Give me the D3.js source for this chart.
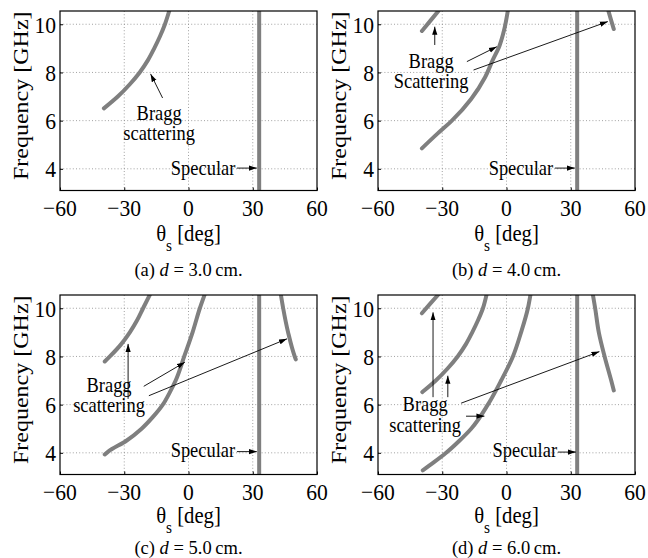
<!DOCTYPE html>
<html>
<head>
<meta charset="utf-8">
<script src="https://cdn.jsdelivr.net/npm/d3@7"></script>
<style>
  body { margin: 0; background: #fff; }
  svg { font-family: "Liberation Serif", "Times New Roman", serif; }
</style>
</head>
<body>
<svg width="648" height="558"></svg>
<script>
// curves: [theta_s (deg), frequency (GHz)]
let specularDeg = 33;

let braggA1 = [[-39.5, 6.51], [-33, 7], [-27.5, 7.5], [-22.8, 8], [-19, 8.5], [-16, 9], [-13.3, 9.5], [-11, 10], [-9, 10.55]];

let braggB1 = [[-39.5, 9.72], [-35.5, 10.15], [-31.8, 10.55]];
let braggB2 = [[-39.5, 4.85], [-32.1, 5.47], [-25.5, 6], [-16.5, 6.9], [-10, 7.8], [-6.5, 8.5], [-3.3, 9.1], [-1, 9.8], [0.6, 10.55]];
let braggB3 = [[47.6, 10.55], [48.9, 10.15], [50.1, 9.8]];

let braggC1 = [[-39.1, 7.79], [-36.7, 8], [-31.5, 8.5], [-27.4, 9], [-24, 9.5], [-21.2, 10], [-18.1, 10.55]];
let braggC2 = [[-39.1, 3.93], [-37.5, 4.05], [-29, 4.5], [-21.9, 5], [-16.5, 5.5], [-12, 6], [-8.8, 6.5], [-6, 7], [-2, 8], [1.9, 9], [5.3, 10], [7.6, 10.58]];
let braggC3 = [[43.1, 10.58], [44.2, 10], [46.5, 9], [49.6, 8], [50.1, 7.88]];

let braggD1 = [[-39.5, 9.79], [-35.5, 10.2], [-31.8, 10.57]];
let braggD2 = [[-39.3, 6.52], [-33, 7], [-27.5, 7.5], [-22.8, 8], [-19, 8.5], [-16, 9], [-13.3, 9.5], [-11, 10], [-9.3, 10.57]];
let braggD3 = [[-39.1, 3.27], [-34, 3.6], [-28.2, 4], [-22, 4.5], [-16.5, 5], [-8.7, 6], [-2.5, 7], [3, 8], [6.8, 9], [10, 10], [11.2, 10.57]];
let braggD4 = [[40.3, 10.58], [41.4, 10], [43.1, 9], [45.8, 8], [48.9, 7], [50.1, 6.59]];

let xTicks = [-60, -30, 0, 30, 60];
let yTicks = [4, 6, 8, 10];
let captions = [["(a) ", "d", " = 3.0\u2009cm."], ["(b) ", "d", " = 4.0\u2009cm."], ["(c) ", "d", " = 5.0\u2009cm."], ["(d) ", "d", " = 6.0\u2009cm."]];

// layout
let width = 648, height = 558;
let plotW = 257, plotH = 179.5;
let sx = 0.9; // glyphs in the picture are a bit narrow

let panels = [
  { x0: 60, y0: 11, capY: 276, thetaY: 50, curves: [braggA1],
    label: ["Bragg", "scattering"], labelAt: [-13.7, 6.02, 5.19],
    arrows: [[-12.1, 6.94, -17.7, 7.94]],
    specAt: [21.9, 3.74], specArrow: [22.6, 31.9, 4.03] },
  { x0: 378, y0: 11, capY: 276, thetaY: 50, curves: [braggB1, braggB2, braggB3],
    label: ["Bragg", "Scattering"], labelAt: [-35.2, 8.17, 7.34],
    arrows: [[-33.5, 9.14, -33.5, 9.9], [-18.5, 8.45, -4.5, 9.07], [-15.4, 8.1, 47.3, 10.11]],
    specAt: [21.8, 3.74], specArrow: [22.6, 31.9, 4.03] },
  { x0: 60, y0: 295, capY: 554, thetaY: 48, curves: [braggC1, braggC2, braggC3],
    label: ["Bragg", "scattering"], labelAt: [-37.1, 6.51, 5.68],
    arrows: [[-28.2, 6.24, -28.2, 8.52], [-20.9, 6.76, -1.7, 7.76], [-18.5, 6.37, 46, 8.73]],
    specAt: [21.8, 3.84], specArrow: [22.6, 31.9, 4.05] },
  { x0: 378, y0: 295, capY: 554, thetaY: 48, curves: [braggD1, braggD2, braggD3, braggD4],
    label: ["Bragg", "scattering"], labelAt: [-38, 5.75, 4.85],
    arrows: [[-34.3, 6.31, -34.3, 9.83], [-27.4, 6.31, -27.4, 7.2], [-21.2, 6.06, 43.4, 8.2], [-18.9, 5.52, -10.3, 5.52]],
    specAt: [23.6, 3.82], specArrow: [24, 32.4, 4.03] }
];

let xScale = d3.scaleLinear().domain([-60, 60]).range([0, plotW]);
let yScale = d3.scaleLinear().domain([3.1, 10.55]).range([plotH, 0]);

let svg = d3.select("svg");

let defs = svg.append("defs");
defs.append("marker")
    .attr("id", "head")
    .attr("viewBox", "0 -3 8 6")
    .attr("refX", 8)
    .attr("refY", 0)
    .attr("markerUnits", "userSpaceOnUse")
    .attr("markerWidth", 8)
    .attr("markerHeight", 6)
    .attr("orient", "auto")
  .append("path")
    .attr("d", "M0,-2.6L8,0L0,2.6Z")
    .attr("fill", "#000");
defs.append("clipPath")
    .attr("id", "plotclip")
  .append("rect")
    .attr("width", plotW)
    .attr("height", plotH);

function txt(g, x, y, str, size, anchor) {
  return g.append("text")
    .attr("transform", "translate(" + x + "," + y + ") scale(" + sx + ",1)")
    .attr("font-size", size)
    .attr("text-anchor", anchor)
    .text(str);
}

let line = d3.line()
    .x(d => xScale(d[0]))
    .y(d => yScale(d[1]))
    .curve(d3.curveMonotoneY);

panels.forEach((p, i) => {
  let g = svg.append("g").attr("transform", "translate(" + p.x0 + "," + p.y0 + ")");

  // grid
  g.selectAll(".gx")
    .data(xTicks.slice(1, -1))
    .enter()
    .append("line")
    .attr("x1", d => xScale(d)).attr("x2", d => xScale(d))
    .attr("y1", 0).attr("y2", plotH)
    .attr("stroke", "#8a8a8a").attr("stroke-width", 0.8)
    .attr("stroke-dasharray", "1,2.2");
  g.selectAll(".gy")
    .data(yTicks)
    .enter()
    .append("line")
    .attr("x1", 0).attr("x2", plotW)
    .attr("y1", d => yScale(d)).attr("y2", d => yScale(d))
    .attr("stroke", "#8a8a8a").attr("stroke-width", 0.8)
    .attr("stroke-dasharray", "1,2.2");

  // small inward ticks
  let xAxis = d3.axisBottom(xScale).tickValues(xTicks).tickSize(-3).tickFormat("");
  let yAxis = d3.axisLeft(yScale).tickValues(yTicks).tickSize(-3).tickFormat("");
  g.append("g").attr("transform", "translate(0," + plotH + ")").call(xAxis)
    .call(a => a.select(".domain").remove());
  g.append("g").call(yAxis).call(a => a.select(".domain").remove());

  // curves
  let cg = g.append("g").attr("clip-path", "url(#plotclip)");
  cg.append("line")
    .attr("x1", xScale(specularDeg)).attr("x2", xScale(specularDeg))
    .attr("y1", 0).attr("y2", plotH)
    .attr("stroke", "#7f7f7f").attr("stroke-width", 4);
  cg.selectAll("path.bragg")
    .data(p.curves.map(c => d3.sort(c, d => d[1])))
    .enter()
    .append("path")
    .attr("class", "bragg")
    .attr("d", line)
    .attr("fill", "none")
    .attr("stroke", "#7f7f7f")
    .attr("stroke-width", 4)
    .attr("stroke-linecap", "round");

  // frame
  g.append("rect")
    .attr("width", plotW).attr("height", plotH)
    .attr("fill", "none").attr("stroke", "#000").attr("stroke-width", 1.2);

  // tick labels
  xTicks.forEach(t => {
    txt(g, xScale(t), plotH + 25, t < 0 ? "\u2212" + (-t) : String(t), 24, "middle");
  });
  yTicks.forEach(t => {
    txt(g, -4, yScale(t) + 8.3, String(t), 24, "end");
  });

  // axis labels
  let xl = g.append("text")
    .attr("transform", "translate(" + (plotW / 2) + "," + (plotH + p.thetaY) + ") scale(" + sx + ",1)")
    .attr("font-size", 23)
    .attr("text-anchor", "middle");
  xl.append("tspan").text("\u03b8");
  xl.append("tspan").attr("font-size", 17).attr("dy", 10).text("s");
  xl.append("tspan").attr("dy", -10).text(" [deg]");

  g.append("text")
    .attr("transform", "translate(-32," + (plotH / 2 - 5) + ") rotate(-90) scale(1," + sx + ")")
    .attr("font-size", 24)
    .attr("text-anchor", "middle")
    .text("Frequency [GHz]");

  // annotations
  txt(g, xScale(p.labelAt[0]), yScale(p.labelAt[1]), p.label[0], 20.5, "middle");
  txt(g, xScale(p.labelAt[0]), yScale(p.labelAt[2]), p.label[1], 20.5, "middle");
  p.arrows.forEach(a => {
    g.append("line")
      .attr("x1", xScale(a[0])).attr("y1", yScale(a[1]))
      .attr("x2", xScale(a[2])).attr("y2", yScale(a[3]))
      .attr("stroke", "#000").attr("stroke-width", 0.9)
      .attr("marker-end", "url(#head)");
  });
  txt(g, xScale(p.specAt[0]), yScale(p.specAt[1]), "Specular", 20.5, "end");
  g.append("line")
    .attr("x1", xScale(p.specArrow[0])).attr("y1", yScale(p.specArrow[2]))
    .attr("x2", xScale(p.specArrow[1])).attr("y2", yScale(p.specArrow[2]))
    .attr("stroke", "#000").attr("stroke-width", 0.9)
    .attr("marker-end", "url(#head)");

  // caption
  let c = captions[i];
  let cap = svg.append("text")
    .attr("transform", "translate(" + (p.x0 + plotW / 2) + "," + p.capY + ")")
    .attr("font-size", 18.5)
    .attr("text-anchor", "middle");
  cap.append("tspan").text(c[0]);
  cap.append("tspan").attr("font-style", "italic").text(c[1]);
  cap.append("tspan").text(c[2]);
});
</script>
</body>
</html>
